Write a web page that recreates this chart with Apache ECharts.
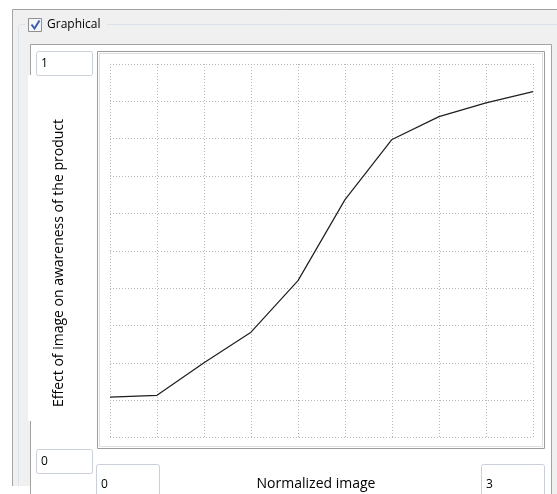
<!DOCTYPE html>
<html>
<head>
<meta charset="utf-8">
<script src="https://cdn.jsdelivr.net/npm/echarts@6/dist/echarts.min.js"></script>
<style>
html,body{margin:0;padding:0;background:#fff;}
#c{width:557px;height:494px;}
</style>
</head>
<body>
<div id="c"></div>
<script>
// ---- data ----
var xCategories = ['0', '1/3', '2/3', '1', '4/3', '5/3', '2', '7/3', '8/3', '3'];
var yValues = [0.108, 0.113, 0.2, 0.282, 0.42, 0.637, 0.798, 0.859, 0.896, 0.926];
var yMin = 0, yMax = 1, yStep = 0.1;
var yMinLabel = '0', yMaxLabel = '1';
var xMinLabel = '0', xMaxLabel = '3';
var groupTitle = 'Graphical';
var xTitle = 'Normalized image';
var yTitle = 'Effect of image on awareness of the product';

var FONT = '"Open Sans", "Noto Sans", sans-serif';
var chart = echarts.init(document.getElementById('c'), null, {renderer: 'canvas'});

function textBox(x, y, w, h, txt) {
  return [
    {type: 'rect', shape: {x: x + 0.5, y: y + 0.5, width: w, height: h, r: 2},
     style: {fill: '#fff', stroke: '#c9d0d9', lineWidth: 1}, z: 5},
    {type: 'text', x: x + 5, y: y + h / 2 + 0.5,
     style: {text: txt, font: '12px ' + FONT, fill: '#000', textVerticalAlign: 'middle'}, z: 6}
  ];
}

var graphics = [
  // outer panel
  {type: 'rect', shape: {x: 12.5, y: 9.5, width: 560, height: 500},
   style: {fill: '#f0f0f0', stroke: '#a3a3a3', lineWidth: 1}, z: 0},
  // group box border
  {type: 'rect', shape: {x: 18.5, y: 24.5, width: 560, height: 500, r: 3},
   style: {fill: null, stroke: '#dbe1e8', lineWidth: 1}, z: 1},
  // gap behind checkbox + title
  {type: 'rect', shape: {x: 25, y: 15, width: 82, height: 20},
   style: {fill: '#f0f0f0'}, z: 2},
  // checkbox
  {type: 'rect', shape: {x: 28.5, y: 18.5, width: 13, height: 13},
   style: {fill: '#f4f6f9', stroke: '#8f8f8f', lineWidth: 1}, z: 3},
  {type: 'polyline', shape: {points: [[31.5, 24.5], [34.5, 28.5], [39.5, 20.5]]},
   style: {stroke: '#3c5fb0', lineWidth: 2, fill: null}, z: 4},
  {type: 'text', x: 47, y: 25,
   style: {text: groupTitle, font: '12px ' + FONT, fill: '#000', textVerticalAlign: 'middle'}, z: 4},
  // inner white panel
  {type: 'rect', shape: {x: 30.5, y: 44.5, width: 521, height: 470},
   style: {fill: '#fff', stroke: '#a3a3a3', lineWidth: 1}, z: 2},
  // white label strip (covers panel border)
  {type: 'rect', shape: {x: 28, y: 75, width: 68, height: 346},
   style: {fill: '#fff'}, z: 3},
  // bottom filler to the left
  {type: 'rect', shape: {x: 0, y: 486, width: 30, height: 10},
   style: {fill: '#fff'}, z: 3},
  // plot frame
  {type: 'rect', shape: {x: 97.5, y: 51.5, width: 447, height: 397},
   style: {fill: '#fff', stroke: '#9c9c9c', lineWidth: 1}, z: 3},
  {type: 'rect', shape: {x: 99.5, y: 53.5, width: 443, height: 393},
   style: {fill: null, stroke: '#dedede', lineWidth: 1}, z: 3},
  // axis titles
  {type: 'text', x: 59, y: 263, rotation: Math.PI / 2,
   style: {text: yTitle, font: '14px ' + FONT, fill: '#000', align: 'center', verticalAlign: 'middle'}, z: 6},
  {type: 'text', x: 316, y: 484,
   style: {text: xTitle, font: '14px ' + FONT, fill: '#000', align: 'center', verticalAlign: 'middle'}, z: 6}
];
graphics = graphics
  .concat(textBox(36, 51, 56, 24, yMaxLabel))
  .concat(textBox(36, 449, 56, 24, yMinLabel))
  .concat(textBox(96, 464, 63, 40, xMinLabel))
  .concat(textBox(481, 464, 63, 40, xMaxLabel));

chart.setOption({
  animation: false,
  backgroundColor: '#fff',
  graphic: {elements: graphics},
  grid: {left: 110, top: 64, right: 24, bottom: 56.5, containLabel: false, z: 10},
  xAxis: {
    type: 'category', data: xCategories, boundaryGap: false,
    axisLine: {show: false}, axisTick: {show: false}, axisLabel: {show: false},
    splitLine: {show: true, interval: 0, lineStyle: {color: '#b8b8b8', width: 1, type: [1, 2]}},
    z: 10
  },
  yAxis: {
    type: 'value', min: yMin, max: yMax, interval: yStep,
    axisLine: {show: false}, axisTick: {show: false}, axisLabel: {show: false},
    splitLine: {show: true, showMinLine: true, showMaxLine: true,
      lineStyle: {color: '#b8b8b8', width: 1, type: [1, 2]}},
    z: 10
  },
  series: [{
    type: 'line', data: yValues, showSymbol: false, symbol: 'none',
    lineStyle: {color: '#1e1e1e', width: 1.2}, z: 12, silent: true
  }]
});
</script>
</body>
</html>
